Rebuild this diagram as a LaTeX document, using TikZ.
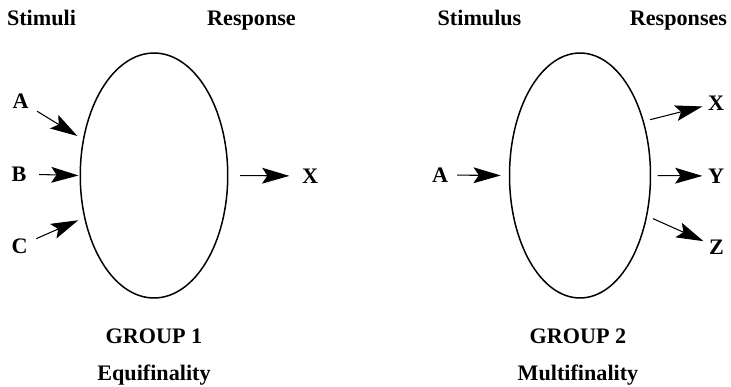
\documentclass[tikz,border=0pt]{standalone}
\usepackage{fontspec}
\setmainfont{Liberation Serif}
\usetikzlibrary{arrows.meta,shapes.geometric}

\begin{document}
\begin{tikzpicture}[
    x=0.02cm, y=-0.02cm,
    every node/.style={font=\fontsize{12.6}{15}\selectfont\bfseries},
    blob/.style={ellipse, draw, line width=0.85pt, inner sep=0pt, outer sep=1pt,
                 minimum height=4.9cm},
    heading/.style={inner sep=0pt, anchor=base},
    letter/.style={inner sep=3pt},
    link/.style={-{Stealth[length=15.5pt, width=9pt, inset=3pt]}, line width=0.6pt}
]
\useasboundingbox (0,0) rectangle (731,386);

% Group 1 (equifinality)
\node[blob, minimum width=2.95cm] (e1) at (154,175.5) {};
\node[heading] (stimuli) at (41.5,25.5) {Stimuli};
\node[heading] (response) at (251.5,25.5) {Response};
\node[letter] (a1) at (20.5,101) {A};
\node[letter] (b1) at (19,174) {B};
\node[letter] (c1) at (19.5,246) {C};
\node[letter] (x1) at (310,176) {X};
\node[heading] (group1) at (154,343) {GROUP 1};
\node[heading] (equi) at (154,380) {Equifinality};

\draw[link, shorten <=2pt, shorten >=3pt] (a1) -- (e1.153);
\draw[link, shorten <=4pt] (b1) -- (e1.west);
\draw[link, shorten <=2pt, shorten >=3pt] (c1) -- (e1.211);
\draw[link, shorten <=6pt, shorten >=4pt] (e1.east) -- (x1);

% Group 2 (multifinality)
\node[blob, minimum width=2.82cm] (e2) at (580,175.5) {};
\node[heading] (stimulus) at (479.5,25.5) {Stimulus};
\node[heading] (responses) at (678.5,25.5) {Responses};
\node[letter] (a2) at (440,175) {A};
\node[letter] (x2) at (716,103) {X};
\node[letter] (y2) at (716,176) {Y};
\node[letter] (z2) at (716.5,247) {Z};
\node[heading] (group2) at (578,343) {GROUP 2};
\node[heading] (multi) at (578,380) {Multifinality};

\draw[link, shorten <=2pt, shorten >=4pt] (a2) -- (e2.west);
\draw[link, shorten <=3pt] (e2.40) -- (x2);
\draw[link, shorten <=3pt] (e2.east) -- (y2);
\draw[link, shorten <=3pt] (e2.-31) -- (z2);

\end{tikzpicture}
\end{document}
